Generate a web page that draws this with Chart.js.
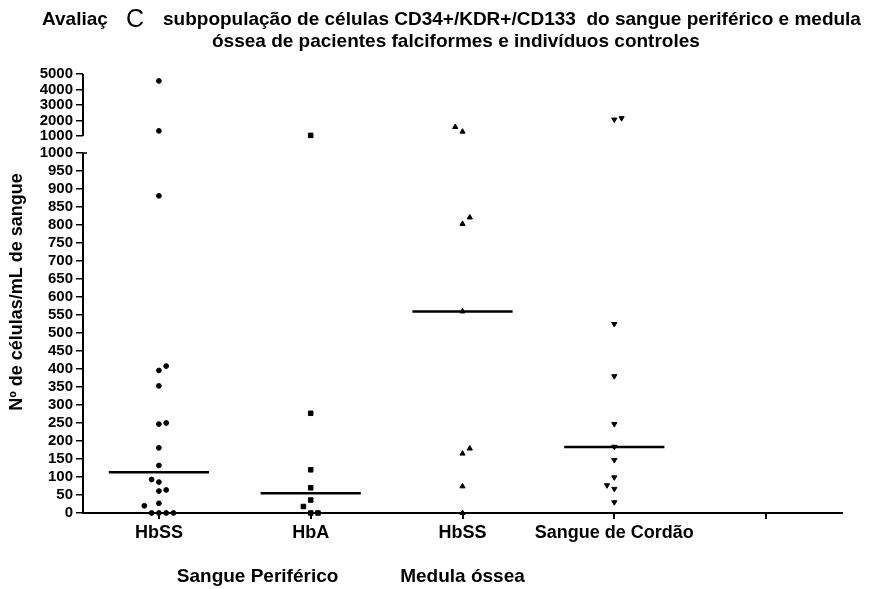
<!DOCTYPE html>
<html lang="pt">
<head>
    <meta charset="UTF-8">
    <title>CD34+/KDR+/CD133</title>
    <script src="https://cdn.jsdelivr.net/npm/chart.js"></script>
    <style>
        body { margin: 0; background: #fff; }
        #wrap { width: 881px; height: 589px; }
    </style>
</head>
<body>
    <div id="wrap"><canvas id="myChart" width="881" height="589"></canvas></div>
    <script>
        // categorias do eixo x (a 5a fica vazia)
        const categories = ['HbSS', 'HbA', 'HbSS', 'Sangue de Cordão', ''];
        const groupLabels = ['Sangue Periférico', 'Medula óssea'];

        // valores (células/mL)
        const hbssPeriferico = [4550, 1330, 881, 408, 396, 353, 250, 247, 181, 132, 93, 86, 64, 61, 27, 20, 0, 0, 0, 0];
        const hbssPerifericoCol = [0, 0, 0, 1, 0, 0, 1, 0, 0, 0, -1, 0, 1, 0, 0, -2, -1, 0, 1, 2];
        const hbaPeriferico = [1040, 277, 120, 70, 36, 18, 0, 0];
        const hbaPerifericoCol = [0, 0, 0, 0, 0, -1, 0, 1];
        const hbssMedula = [1580, 1280, 821, 803, 560, 179, 165, 74, 0];
        const hbssMedulaCol = [-1, 0, 1, 0, 0, 1, 0, 0, 0];
        const sangueCordao = [2150, 2060, 525, 380, 247, 184, 147, 99, 77, 67, 30];
        const sangueCordaoCol = [1, 0, 0, 0, 0, 0, 0, 0, -1, 0, 0];
        const medians = [113, 55, 560, 183];

        const yTicksLower = [0, 50, 100, 150, 200, 250, 300, 350, 400, 450, 500, 550, 600, 650, 700, 750, 800, 850, 900, 950, 1000];
        const yTicksUpper = [1000, 2000, 3000, 4000, 5000];

        // eixo y quebrado: 0-1000 linear, depois 1000-5000 comprimido
        const BREAK_START = 1047.2;
        const UPPER_FACTOR = 0.04305;
        const Y_TOP = BREAK_START + 4000 * UPPER_FACTOR;
        const JITTER = 0.048;

        function upperAxis(v) {
            return BREAK_START + (v - 1000) * UPPER_FACTOR;
        }

        function toAxis(v) {
            return v <= 1000 ? v : upperAxis(v);
        }

        function points(values, cols, cat) {
            return values.map((v, i) => ({ x: cat + cols[i] * JITTER, y: toAxis(v) }));
        }

        const tickLabelMap = new Map();
        yTicksLower.forEach(v => tickLabelMap.set(v, String(v)));
        yTicksUpper.forEach(v => tickLabelMap.set(+upperAxis(v).toFixed(3), String(v)));

        const FONT = '"Liberation Sans", Arial, sans-serif';

        const markerBase = {
            type: 'scatter',
            backgroundColor: '#000',
            borderColor: '#000',
            borderWidth: 1,
            clip: false
        };

        const datasets = [
            { ...markerBase, data: points(hbssPeriferico, hbssPerifericoCol, 1), pointStyle: 'circle', pointRadius: 2.4 },
            { ...markerBase, data: points(hbaPeriferico, hbaPerifericoCol, 2), pointStyle: 'rect', pointRadius: 3.2 },
            { ...markerBase, data: points(hbssMedula, hbssMedulaCol, 3), pointStyle: 'triangle', pointRadius: 3 },
            { ...markerBase, data: points(sangueCordao, sangueCordaoCol, 4), pointStyle: 'triangle', pointRotation: 180, pointRadius: 3 }
        ];

        medians.forEach((m, i) => {
            datasets.push({
                type: 'line',
                data: [{ x: i + 1 - 0.33, y: toAxis(m) }, { x: i + 1 + 0.33, y: toAxis(m) }],
                borderColor: '#000',
                borderWidth: 2.5,
                pointRadius: 0,
                clip: false
            });
        });

        const textPlugin = {
            id: 'textPlugin',
            afterDraw(chart) {
                const ctx = chart.ctx;
                const x = chart.scales.x;
                const y = chart.scales.y;
                ctx.save();
                ctx.fillStyle = '#000';
                ctx.strokeStyle = '#000';

                // linha do eixo y com quebra
                const ax = x.left;
                ctx.lineWidth = 2;
                ctx.beginPath();
                ctx.moveTo(ax, y.getPixelForValue(0) + 1);
                ctx.lineTo(ax, y.getPixelForValue(1000));
                ctx.moveTo(ax, y.getPixelForValue(BREAK_START));
                ctx.lineTo(ax, y.getPixelForValue(Y_TOP));
                ctx.stroke();
                ctx.lineWidth = 1.5;
                ctx.beginPath();
                ctx.moveTo(ax, y.getPixelForValue(1000));
                ctx.lineTo(ax + 4, y.getPixelForValue(1000));
                ctx.stroke();

                // título
                ctx.textBaseline = 'alphabetic';
                ctx.textAlign = 'left';
                ctx.font = 'bold 19px ' + FONT;
                ctx.fillText('Avaliaç', 42, 25);
                ctx.fillText('subpopulação de células CD34+/KDR+/CD133  do sangue periférico e medula', 163, 25);
                ctx.fillText('óssea de pacientes falciformes e indivíduos controles', 212, 47);
                ctx.font = '25px ' + FONT;
                ctx.fillText('C', 126, 27);

                // rótulos de grupo
                ctx.textAlign = 'center';
                ctx.textBaseline = 'middle';
                ctx.font = 'bold 19px ' + FONT;
                ctx.fillText(groupLabels[0], x.getPixelForValue(1.65), 577);
                ctx.fillText(groupLabels[1], x.getPixelForValue(3), 577);

                // título do eixo y
                ctx.translate(17.5, 292);
                ctx.rotate(-Math.PI / 2);
                ctx.font = 'bold 18px ' + FONT;
                ctx.fillText('Nº de células/mL de sangue', 0, 0);
                ctx.restore();
            }
        };

        new Chart(document.getElementById('myChart'), {
            type: 'scatter',
            data: { datasets: datasets },
            plugins: [textPlugin],
            options: {
                responsive: false,
                animation: false,
                layout: { padding: { top: 74, right: 39, left: 0, bottom: 0 } },
                plugins: {
                    legend: { display: false },
                    tooltip: { enabled: false }
                },
                scales: {
                    x: {
                        type: 'linear',
                        min: 0.5,
                        max: 5.5,
                        afterFit: s => { s.height = 76; },
                        afterBuildTicks: s => { s.ticks = [1, 2, 3, 4, 5].map(v => ({ value: v })); },
                        border: { display: true, color: '#000', width: 2 },
                        grid: { drawOnChartArea: false, color: '#000', lineWidth: 2, tickLength: 6 },
                        ticks: {
                            color: '#000',
                            padding: 3,
                            maxRotation: 0,
                            autoSkip: false,
                            font: { family: FONT, size: 18, weight: 'bold' },
                            callback: v => categories[v - 1]
                        }
                    },
                    y: {
                        type: 'linear',
                        min: 0,
                        max: Y_TOP,
                        afterFit: s => { s.width = 83; },
                        afterBuildTicks: s => { s.ticks = [...tickLabelMap.keys()].map(v => ({ value: v })); },
                        border: { display: false },
                        grid: { drawOnChartArea: false, color: '#000', lineWidth: 1.5, tickLength: 7 },
                        ticks: {
                            color: '#000',
                            padding: 3,
                            autoSkip: false,
                            font: { family: FONT, size: 15, weight: 'bold' },
                            callback: v => tickLabelMap.get(+v.toFixed(3))
                        }
                    }
                }
            }
        });
    </script>
</body>
</html>
